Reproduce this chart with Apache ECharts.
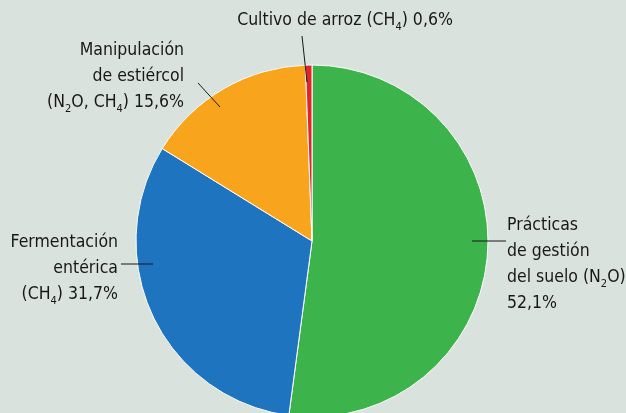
<!DOCTYPE html>
<html>
<head>
<meta charset="utf-8">
<script src="https://cdn.jsdelivr.net/npm/echarts@6/dist/echarts.min.js"></script>
<style>
html,body{margin:0;padding:0;background:#d9e2dd;}
#main{width:626px;height:413px;}
</style>
</head>
<body>
<div id="main"></div>
<script>
// fuentes de emisiones agricolas, porcentaje
var categorias = ['Prácticas de gestión del suelo (N2O)', 'Fermentación entérica (CH4)', 'Manipulación de estiércol (N2O, CH4)', 'Cultivo de arroz (CH4)'];
var valores = [52.1, 31.7, 15.6, 0.6];
var etiquetas = [
	'Prácticas\nde gestión\ndel suelo (N{sub|2}O)\n52,1%',
	'Fermentación\nentérica\n(CH{sub|4}) 31,7%',
	'Manipulación\nde estiércol\n(N{sub|2}O, CH{sub|4}) 15,6%',
	'Cultivo de arroz (CH{sub|4}) 0,6%'
];
var colores = ['#3cb44b', '#1f74bf', '#f8a51d', '#e2232a'];

// donde va cada rotulo
var rotulos = [
	{x: 507, y: 212, align: 'left', line: [[472, 241], [506, 241]]},
	{x: 118, y: 229, align: 'right', line: [[121, 264], [153, 264]]},
	{x: 184, y: 37, align: 'right', line: [[198, 83], [220, 107]]},
	{x: 345, y: 7, align: 'center', line: [[302, 36], [307, 82]]}
];

var fuente = "'Liberation Sans Narrow', 'DejaVu Sans Condensed', sans-serif";

var datos = [];
var datosRotulo = [];
for (var i = 0; i < valores.length; i++) {
	datos.push({
		name: categorias[i],
		value: valores[i],
		itemStyle: {color: colores[i]}
	});
	datosRotulo.push({
		name: categorias[i],
		value: valores[i],
		label: {formatter: etiquetas[i]}
	});
}

var comun = {
	type: 'pie',
	center: [312, 241],
	radius: 176,
	startAngle: 90,
	clockwise: true,
	avoidLabelOverlap: false
};

var chart = echarts.init(document.getElementById('main'));
chart.setOption({
	backgroundColor: '#d9e2dd',
	animation: false,
	series: [
		echarts.util.merge({
			z: 2,
			itemStyle: {borderColor: '#ffffff', borderWidth: 1},
			label: {show: false},
			labelLine: {show: false},
			data: datos
		}, comun),
		// segunda capa transparente, solo para rotulos y lineas por encima
		echarts.util.merge({
			z: 3,
			silent: true,
			itemStyle: {color: 'rgba(0,0,0,0)', borderWidth: 0},
			label: {
				show: true,
				position: 'outside',
				color: '#1a1718',
				fontFamily: fuente,
				fontSize: 17.5,
				lineHeight: 26,
				rich: {
					sub: {fontFamily: fuente, fontSize: 11, lineHeight: 26, verticalAlign: 'bottom', color: '#1a1718', padding: [7, 0, 0, 0]}
				}
			},
			labelLine: {show: true, lineStyle: {color: '#1a1718', width: 1}},
			labelLayout: function (params) {
				var r = rotulos[params.dataIndex];
				return {x: r.x, y: r.y, align: r.align, verticalAlign: 'top', labelLinePoints: r.line};
			},
			data: datosRotulo
		}, comun)
	]
});
</script>
</body>
</html>
